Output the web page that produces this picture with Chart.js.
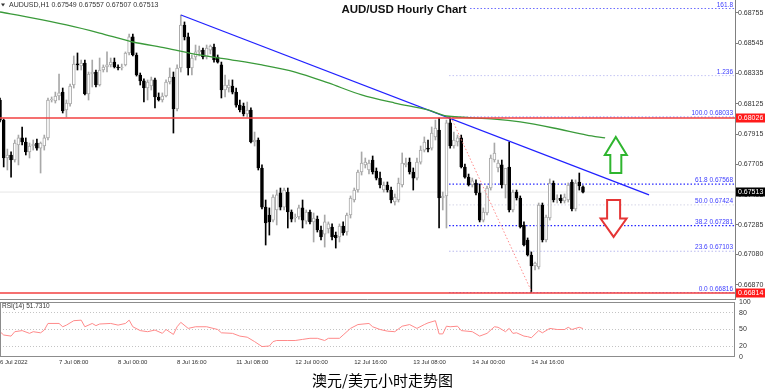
<!DOCTYPE html>
<html>
<head>
<meta charset="utf-8">
<script src="https://cdn.jsdelivr.net/npm/chart.js@4.4.1/dist/chart.umd.min.js"></script>
<style>
  html, body { margin: 0; padding: 0; background: #fff; }
  #wrap { position: relative; width: 771px; height: 390px; overflow: hidden; background: #fff; }
  #main { position: absolute; left: 0; top: 0; width: 771px; height: 300px; }
  #rsi { position: absolute; left: 0; top: 297px; width: 771px; height: 74px; }
  #caption { position: absolute; left: 0; top: 372px; width: 765px; text-align: center;
    font: 15px/15px "Noto Sans CJK SC", sans-serif; color: #000; }
</style>
</head>
<body>
<div id="wrap">
  <canvas id="main" width="771" height="300"></canvas>
  <canvas id="rsi" width="771" height="74"></canvas>
  <div id="caption">澳元/美元小时走势图</div>
</div>
<script>
// hourly candles, bar 0 = 6 Jul 16:00 (weekend hours skipped)
const opens = [0.68151,0.68012,0.67749,0.67770,0.67735,0.67839,0.67888,0.67860,0.67791,0.67832,
  0.67853,0.67818,0.67832,0.67888,0.68151,0.68144,0.68179,0.68206,0.68082,0.68123,
  0.68255,0.68400,0.68387,0.68407,0.68193,0.68331,0.68345,0.68255,0.68359,0.68380,
  0.68394,0.68414,0.68380,0.68373,0.68394,0.68477,0.68588,0.68463,0.68324,0.68283,
  0.68234,0.68248,0.68290,0.68172,0.68151,0.68179,0.68276,0.68310,0.68089,0.68373,
  0.68671,0.68588,0.68373,0.68449,0.68484,0.68497,0.68449,0.68497,0.68518,0.68449,
  0.68394,0.68220,0.68234,0.68248,0.68206,0.68116,0.68109,0.68054,0.68082,0.67860,
  0.67874,0.67680,0.67409,0.67354,0.67319,0.67389,0.67507,0.67409,0.67513,0.67375,
  0.67333,0.67340,0.67403,0.67312,0.67375,0.67306,0.67326,0.67250,0.67222,0.67257,
  0.67271,0.67215,0.67202,0.67278,0.67236,0.67354,0.67458,0.67527,0.67652,0.67701,
  0.67666,0.67735,0.67659,0.67610,0.67527,0.67562,0.67527,0.67444,0.67458,0.67562,
  0.67701,0.67721,0.67652,0.67610,0.67721,0.67804,0.67818,0.67818,0.67895,0.67943,
  0.67472,0.67486,0.67992,0.67832,0.67860,0.67888,0.67687,0.67617,0.67562,0.67576,
  0.67507,0.67319,0.67368,0.67541,0.67735,0.67680,0.67701,0.67562,0.67687,0.67389,
  0.67513,0.67472,0.67285,0.67181,0.67077,0.67001,0.66994,0.67423,0.67181,0.67333,
  0.67576,0.67458,0.67472,0.67451,0.67458,0.67583,0.67396,0.67583,0.67549];
const highs = [0.68165,0.68019,0.67811,0.67791,0.67874,0.67908,0.67964,0.67888,0.67853,0.67874,
  0.67881,0.67860,0.67908,0.68165,0.68172,0.68206,0.68331,0.68234,0.68151,0.68262,
  0.68456,0.68477,0.68428,0.68428,0.68345,0.68428,0.68359,0.68442,0.68394,0.68484,
  0.68442,0.68442,0.68394,0.68400,0.68484,0.68608,0.68608,0.68477,0.68338,0.68297,
  0.68290,0.68310,0.68303,0.68200,0.68200,0.68290,0.68373,0.68345,0.68394,0.68740,
  0.68692,0.68615,0.68463,0.68532,0.68525,0.68511,0.68532,0.68532,0.68539,0.68463,
  0.68414,0.68324,0.68290,0.68290,0.68234,0.68151,0.68130,0.68137,0.68096,0.67929,
  0.67888,0.67701,0.67458,0.67403,0.67493,0.67527,0.67541,0.67541,0.67541,0.67389,
  0.67361,0.67423,0.67458,0.67389,0.67389,0.67368,0.67347,0.67278,0.67354,0.67306,
  0.67292,0.67236,0.67292,0.67306,0.67368,0.67486,0.67541,0.67666,0.67791,0.67749,
  0.67735,0.67763,0.67680,0.67652,0.67583,0.67583,0.67548,0.67500,0.67610,0.67784,
  0.67749,0.67749,0.67680,0.67749,0.67832,0.67895,0.67874,0.67964,0.68012,0.68026,
  0.67513,0.68012,0.68033,0.67929,0.67908,0.67908,0.67707,0.67638,0.67610,0.67597,
  0.67569,0.67403,0.67555,0.67770,0.67853,0.67735,0.67735,0.67666,0.67860,0.67527,
  0.67527,0.67486,0.67306,0.67195,0.67098,0.67028,0.67437,0.67437,0.67354,0.67604,
  0.67590,0.67493,0.67493,0.67500,0.67576,0.67597,0.67597,0.67645,0.67557];
const lows = [0.67999,0.67687,0.67666,0.67617,0.67721,0.67701,0.67839,0.67770,0.67749,0.67804,
  0.67804,0.67645,0.67804,0.67874,0.68137,0.68130,0.68151,0.68061,0.68033,0.68109,
  0.68234,0.68359,0.68359,0.68186,0.68151,0.68241,0.68241,0.68248,0.68345,0.68345,
  0.68380,0.68373,0.68359,0.68359,0.68387,0.68463,0.68456,0.68317,0.68255,0.68137,
  0.68151,0.68220,0.68096,0.68144,0.68137,0.68172,0.68262,0.67922,0.68075,0.68345,
  0.68567,0.68324,0.68324,0.68428,0.68456,0.68435,0.68435,0.68470,0.68414,0.68407,
  0.68165,0.68172,0.68206,0.68193,0.68102,0.68068,0.68040,0.68033,0.67853,0.67832,
  0.67666,0.67396,0.67146,0.67215,0.67306,0.67285,0.67389,0.67389,0.67264,0.67306,
  0.67306,0.67326,0.67264,0.67292,0.67292,0.67167,0.67236,0.67181,0.67132,0.67229,
  0.67181,0.67125,0.67167,0.67215,0.67215,0.67333,0.67444,0.67513,0.67631,0.67680,
  0.67638,0.67638,0.67597,0.67541,0.67513,0.67513,0.67437,0.67423,0.67444,0.67548,
  0.67687,0.67638,0.67527,0.67597,0.67707,0.67791,0.67791,0.67804,0.67874,0.67264,
  0.67389,0.67264,0.67818,0.67818,0.67832,0.67680,0.67610,0.67555,0.67548,0.67493,
  0.67306,0.67306,0.67354,0.67527,0.67721,0.67652,0.67541,0.67472,0.67375,0.67375,
  0.67458,0.67264,0.67139,0.67070,0.66816,0.66973,0.66980,0.67167,0.67167,0.67319,
  0.67444,0.67437,0.67437,0.67437,0.67444,0.67382,0.67382,0.67527,0.67507];
const closes = [0.68012,0.67749,0.67770,0.67735,0.67853,0.67888,0.67860,0.67791,0.67832,0.67846,
  0.67818,0.67853,0.67888,0.68151,0.68158,0.68179,0.68200,0.68075,0.68130,0.68248,
  0.68400,0.68394,0.68407,0.68193,0.68331,0.68345,0.68255,0.68359,0.68380,0.68394,
  0.68414,0.68380,0.68373,0.68380,0.68477,0.68588,0.68463,0.68324,0.68283,0.68234,
  0.68276,0.68290,0.68172,0.68151,0.68179,0.68276,0.68310,0.68089,0.68373,0.68671,
  0.68588,0.68373,0.68442,0.68484,0.68497,0.68449,0.68511,0.68525,0.68428,0.68414,
  0.68220,0.68255,0.68255,0.68206,0.68116,0.68082,0.68054,0.68082,0.67860,0.67874,
  0.67680,0.67409,0.67299,0.67306,0.67479,0.67493,0.67409,0.67527,0.67375,0.67326,
  0.67340,0.67403,0.67319,0.67375,0.67306,0.67333,0.67250,0.67202,0.67306,0.67292,
  0.67202,0.67195,0.67278,0.67229,0.67354,0.67472,0.67527,0.67652,0.67714,0.67721,
  0.67714,0.67652,0.67610,0.67562,0.67562,0.67527,0.67458,0.67479,0.67576,0.67714,
  0.67714,0.67652,0.67610,0.67721,0.67804,0.67860,0.67811,0.67922,0.67957,0.67472,
  0.67486,0.67992,0.67832,0.67874,0.67888,0.67687,0.67617,0.67562,0.67590,0.67507,
  0.67319,0.67375,0.67541,0.67749,0.67784,0.67714,0.67562,0.67680,0.67389,0.67513,
  0.67472,0.67271,0.67146,0.67077,0.67001,0.67021,0.67423,0.67181,0.67340,0.67576,
  0.67458,0.67472,0.67451,0.67479,0.67562,0.67396,0.67576,0.67555,0.67513];

// moving average (green), read at sample bars
const maIndex = [0, 9, 18, 27, 36, 45, 54, 63, 71, 80, 89, 98, 107, 116, 121, 134, 141, 150, 159, 164];
const maValues = [0.68761, 0.68719, 0.68671, 0.68615, 0.68553, 0.68511, 0.68463, 0.68428, 0.68394, 0.68345,
  0.68269, 0.68186, 0.68130, 0.68082, 0.68040, 0.68019, 0.67999, 0.67957, 0.67908, 0.67888];

// blue trend line
const trendIndex = [49.05, 175.9];
const trendValues = [0.68740, 0.67493];

// horizontal red levels and last price
const redLevels = [0.68026, 0.66814];
const lastPrice = 0.67513;

// fibonacci retracement
const fibText = ['161.8', '1.236', '100.0 0.68033', '61.8 0.67568', '50.0 0.67424', '38.2 0.67281', '23.6 0.67103', '0.0 0.66816'];
const fibValues = [0.68785, 0.68320, 0.68033, 0.67568, 0.67424, 0.67281, 0.67103, 0.66816];
const fibStartIndex = 121.7;
const fibSwingIndex = [122.2, 144.2];
const fibSwingValues = [0.68033, 0.66816];

// arrows: [up, down]
const arrowIndex = [166.9, 166.3];
const arrowTop = [0.67895, 0.67458];
const arrowBottom = [0.67645, 0.67202];

// RSI(14)
const rsiIndex = [0,1,3,4,6,8,9,11,12,13,16,17,18,20,22,23,25,26,27,30,32,34,35,36,38,40,42,44,45,47,48,49,51,53,56,59,
  60,63,65,67,69,71,73,74,75,78,80,82,84,86,88,89,92,93,95,97,100,101,103,105,107,109,111,113,115,116,118,119,
  120,121,122,124,125,128,130,132,134,135,137,138,139,140,142,143,144,146,147,149,151,153,154,155,157,158];
const rsiValues = [46,40,38,46,48,43,46,44,49,61,61,55,58,66,67,55,61,57,60,61,58,61,67,55,48,46,49,43,50,41,55,63,52,55,55,50,
  44,43,38,36,28,19,20,28,30,30,30,32,34,34,30,34,34,40,52,59,61,55,50,47,46,56,59,52,59,62,66,42,
  42,56,55,56,48,46,38,43,55,54,46,52,43,44,38,37,35,48,44,52,50,50,54,50,54,51.731];

// axes
const priceTicks = [0.66870, 0.67080, 0.67285, 0.67495, 0.67705, 0.67915, 0.68125, 0.68335, 0.68545, 0.68755];
const rsiTicks = [0, 20, 50, 80, 100];
const timeTickIndex = [0, 16, 32, 48, 64, 80, 96, 112, 128, 144];
const timeTickLabels = ['6 Jul 2022', '7 Jul 08:00', '8 Jul 00:00', '8 Jul 16:00', '11 Jul 08:00',
  '12 Jul 00:00', '12 Jul 16:00', '13 Jul 08:00', '14 Jul 00:00', '14 Jul 16:00'];

const xMin = 0, xMax = 199.2;
const FONT = '"Liberation Sans", Arial, sans-serif';
Chart.defaults.font.family = FONT;

const last = closes.length - 1;
const isBull = closes.map((c, i) => c >= opens[i]);
const bullCol = '#a8a8a8';

function hLine(v, from, to, color, width, dash, order) {
  return {
    type: 'line',
    data: [{ x: from, y: v }, { x: to, y: v }],
    borderColor: color, borderWidth: width, borderDash: dash || [],
    pointRadius: 0, order: order
  };
}

const fibColors = ['#6c6cff', '#c4c4f4', '#8080ff', '#2626ff', '#d4d4e6', '#2626ff', '#b8b8ee', '#8080ff'];
const fibWidths = [1, 1, 1, 1.3, 1, 1.3, 1, 1];

const datasets = [
  {
    type: 'bar',
    data: lows.map((l, i) => ({ x: i, y: [l, highs[i]] })),
    backgroundColor: isBull.map(b => b ? bullCol : '#000'),
    barThickness: 1, grouped: false, order: 2
  },
  {
    type: 'bar',
    data: opens.map((o, i) => ({ x: i, y: [o, closes[i]] })),
    backgroundColor: isBull.map(b => b ? '#fff' : '#000'),
    borderColor: isBull.map(b => b ? bullCol : '#000'),
    borderWidth: 1, borderSkipped: false, minBarLength: 1,
    barThickness: 3, grouped: false, order: 1
  },
  hLine(lastPrice, xMin, xMax, '#e6e6e6', 1, [], 5),
  ...fibValues.map((v, k) => hLine(v, fibStartIndex, xMax, fibColors[k], fibWidths[k], [1.5, 2], 4)),
  {
    type: 'line',
    data: fibSwingIndex.map((x, k) => ({ x: x, y: fibSwingValues[k] })),
    borderColor: '#ff8a8a', borderWidth: 1, borderDash: [1.5, 2], pointRadius: 0, order: 0
  },
  ...redLevels.map(v => hLine(v, xMin, xMax, '#f24141', 1.6, [], 0)),
  {
    type: 'line',
    data: maIndex.map((x, k) => ({ x: x, y: maValues[k] })),
    borderColor: '#3a9a3a', borderWidth: 1.3, pointRadius: 0, tension: 0.3, order: 0
  },
  {
    type: 'line',
    data: trendIndex.map((x, k) => ({ x: x, y: trendValues[k] })),
    borderColor: '#2121ff', borderWidth: 1.3, pointRadius: 0, order: 0
  }
];

function arrow(ctx, cx, tip, tail, hw, sw, color) {
  const base = (tip + tail) / 2;
  ctx.beginPath();
  ctx.moveTo(cx, tip);
  ctx.lineTo(cx + hw, base);
  ctx.lineTo(cx + sw, base);
  ctx.lineTo(cx + sw, tail);
  ctx.lineTo(cx - sw, tail);
  ctx.lineTo(cx - sw, base);
  ctx.lineTo(cx - hw, base);
  ctx.closePath();
  ctx.fillStyle = '#fff';
  ctx.fill();
  ctx.lineWidth = 2;
  ctx.strokeStyle = color;
  ctx.stroke();
}

const mainDecor = {
  id: 'mainDecor',
  afterDatasetsDraw(chart) {
    const { ctx, chartArea: a, scales: { x, y } } = chart;
    ctx.save();
    // fib labels
    ctx.font = '6.5px ' + FONT;
    ctx.fillStyle = '#3c3cff';
    ctx.textAlign = 'right';
    ctx.textBaseline = 'bottom';
    fibValues.forEach((v, k) => ctx.fillText(fibText[k], a.right - 2, y.getPixelForValue(v) - 0.5));

    // arrows
    arrow(ctx, x.getPixelForValue(arrowIndex[0]), y.getPixelForValue(arrowTop[0]),
      y.getPixelForValue(arrowBottom[0]), 11, 5.5, '#2fb52f');
    arrow(ctx, x.getPixelForValue(arrowIndex[1]), y.getPixelForValue(arrowBottom[1]),
      y.getPixelForValue(arrowTop[1]), 13, 6.5, '#e53535');

    // title
    ctx.font = 'bold 11.5px ' + FONT;
    const title = 'AUD/USD Hourly Chart';
    const tw = ctx.measureText(title).width;
    ctx.fillStyle = '#fff';
    ctx.fillRect(404 - tw / 2 - 2, 2, tw + 4, 14);
    ctx.fillStyle = '#111';
    ctx.textAlign = 'center';
    ctx.textBaseline = 'middle';
    ctx.fillText(title, 404, 9.5);

    // symbol info
    ctx.fillStyle = '#333';
    ctx.beginPath();
    ctx.moveTo(1, 3.5); ctx.lineTo(5, 3.5); ctx.lineTo(3, 6.5); ctx.closePath();
    ctx.fill();
    ctx.font = '7px ' + FONT;
    ctx.textAlign = 'left';
    ctx.fillText('AUDUSD,H1 ' + [opens[last], highs[last], lows[last], closes[last]].map(v => v.toFixed(5)).join(' '), 9, 5.5);

    // bottom frame
    ctx.strokeStyle = '#8c8c8c';
    ctx.lineWidth = 1;
    ctx.beginPath();
    ctx.moveTo(a.left, a.bottom - 0.5);
    ctx.lineTo(a.right, a.bottom - 0.5);
    ctx.stroke();
    ctx.restore();
  },
  afterDraw(chart) {
    const { ctx, chartArea: a, scales: { y } } = chart;
    ctx.save();
    const tag = (v, bg) => {
      const py = y.getPixelForValue(v);
      ctx.fillStyle = bg;
      ctx.fillRect(a.right + 1, Math.round(py) - 4.5, 29, 9);
      ctx.fillStyle = '#fff';
      ctx.font = '7px ' + FONT;
      ctx.textAlign = 'left';
      ctx.textBaseline = 'middle';
      ctx.fillText(v.toFixed(5), a.right + 3, Math.round(py) + 0.5);
    };
    redLevels.forEach(v => tag(v, '#ff1a1a'));
    tag(lastPrice, '#000');
    ctx.restore();
  }
};

new Chart(document.getElementById('main'), {
  type: 'bar',
  data: { datasets: datasets },
  options: {
    responsive: false,
    animation: false,
    layout: { padding: 0 },
    plugins: { legend: { display: false }, tooltip: { enabled: false } },
    scales: {
      x: { type: 'linear', display: false, min: xMin, max: xMax, offset: false, grid: { offset: false } },
      y: {
        position: 'right',
        min: 0.66765,
        max: 0.68844,
        afterBuildTicks: ax => { ax.ticks = priceTicks.map(v => ({ value: v })); },
        afterFit: ax => { ax.width = 36; ax.paddingTop = 0; ax.paddingBottom = 0; },
        grid: { drawOnChartArea: false, tickLength: 3, color: '#808080' },
        border: { display: true, color: '#808080' },
        ticks: { padding: 0, color: '#333', font: { size: 7 }, callback: v => v.toFixed(5) }
      }
    }
  },
  plugins: [mainDecor]
});

const rsiDecor = {
  id: 'rsiDecor',
  afterDraw(chart) {
    const { ctx, chartArea: a } = chart;
    ctx.save();
    ctx.strokeStyle = '#8c8c8c';
    ctx.lineWidth = 1;
    ctx.strokeRect(a.left + 0.5, a.top + 0.5, a.right - a.left - 1, a.bottom - a.top - 1);
    ctx.fillStyle = '#333';
    ctx.font = '6.5px ' + FONT;
    ctx.textAlign = 'left';
    ctx.textBaseline = 'middle';
    ctx.fillText('RSI(14) ' + rsiValues[rsiValues.length - 1].toFixed(4), 2, a.top + 4.5);
    ctx.restore();
  }
};

new Chart(document.getElementById('rsi'), {
  type: 'line',
  data: {
    datasets: [{
      data: rsiIndex.map((x, k) => ({ x: x, y: rsiValues[k] })),
      borderColor: '#ff8a8a', borderWidth: 1, pointRadius: 0, tension: 0
    }]
  },
  options: {
    responsive: false,
    animation: false,
    layout: { padding: { top: 5, left: 0, right: 0, bottom: 0 } },
    plugins: { legend: { display: false }, tooltip: { enabled: false } },
    scales: {
      x: {
        type: 'linear', min: xMin, max: xMax,
        afterBuildTicks: ax => { ax.ticks = timeTickIndex.map(v => ({ value: v })); },
        afterFit: ax => { ax.height = 14; ax.paddingLeft = 0; ax.paddingRight = 0; },
        grid: { display: false, drawTicks: false },
        border: { display: false },
        ticks: {
          autoSkip: false, maxRotation: 0, align: 'start', padding: 2,
          color: '#333', font: { size: 6 },
          callback: v => timeTickLabels[timeTickIndex.indexOf(v)]
        }
      },
      y: {
        position: 'right', min: 0, max: 100,
        afterBuildTicks: ax => { ax.ticks = rsiTicks.map(v => ({ value: v })); },
        afterFit: ax => { ax.width = 36; ax.paddingTop = 0; ax.paddingBottom = 0; },
        grid: {
          drawTicks: false,
          color: c => (c.tick && (c.tick.value === 0 || c.tick.value === 100)) ? 'rgba(0,0,0,0)' : '#c4c4c4'
        },
        border: { display: false, dash: [1, 2] },
        ticks: { padding: 4, color: '#333', font: { size: 7 } }
      }
    }
  },
  plugins: [rsiDecor]
});
</script>
</body>
</html>
